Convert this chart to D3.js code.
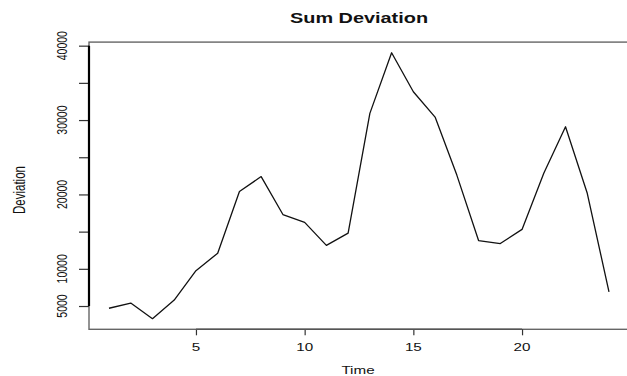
<!DOCTYPE html>
<html lang="en">
<head>
    <meta charset="UTF-8">
    <title>Sum Deviation</title>
    <script src="https://cdn.jsdelivr.net/npm/d3@7"></script>
    <style>
        body { margin: 0; background: #fff; }
        text { font-family: "Liberation Sans", Arial, sans-serif; fill: #111; }
    </style>
</head>
<body>
<svg id="chart" width="627" height="376"></svg>
<script>
    // data
    const time = [1, 2, 3, 4, 5, 6, 7, 8, 9, 10, 11, 12, 13, 14, 15, 16, 17, 18, 19, 20, 21, 22, 23, 24];
    const deviation = [4700, 5400, 3300, 5800, 9750, 12100, 20400, 22400, 17300, 16250, 13150, 14800,
        30900, 39050, 33800, 30400, 22600, 13800, 13400, 15300, 22850, 29100, 20150, 6900];
    const xTicks = [5, 10, 15, 20];
    const yTicks = [5000, 10000, 15000, 20000, 25000, 30000, 35000, 40000];
    const yTickLabels = ["5000", "10000", "", "20000", "", "30000", "", "40000"];

    // the picture is stretched sideways, so text gets a horizontal stretch too
    const stretch = 1.45;

    const svg = d3.select("#chart");

    // R style limits: 4% padding each side
    let xPad = (d3.max(time) - d3.min(time)) * 0.04
    let yPad = (d3.max(deviation) - d3.min(deviation)) * 0.04
    let x = d3.scaleLinear()
        .domain([d3.min(time) - xPad, d3.max(time) + xPad])
        .range([89, 629])
    let y = d3.scaleLinear()
        .domain([d3.min(deviation) - yPad, d3.max(deviation) + yPad])
        .range([329.3, 42.1])

    // plot box (its right side falls off the picture)
    svg.append("rect")
        .attr("x", x.range()[0])
        .attr("y", y.range()[1])
        .attr("width", x.range()[1] - x.range()[0] + 4)
        .attr("height", y.range()[0] - y.range()[1])
        .attr("fill", "none")
        .attr("stroke", "#666")
        .attr("stroke-width", 1.4)

    // y axis
    let yAxis = svg.append("g")
        .attr("transform", "translate(" + x.range()[0] + ",0)")
        .call(d3.axisLeft(y).tickValues(yTicks).tickSize(10).tickSizeOuter(0).tickFormat(""))
    yAxis.select(".domain").remove()
    yAxis.selectAll(".tick line").attr("stroke", "#333").attr("stroke-width", 1.2)
    yAxis.append("line")
        .attr("x1", 0).attr("x2", 0)
        .attr("y1", y(yTicks[0])).attr("y2", y(yTicks[yTicks.length - 1]))
        .attr("stroke", "#000")
        .attr("stroke-width", 2.2)

    yTicks.forEach((v, i) => {
        if (yTickLabels[i] === "") return
        svg.append("text")
            .attr("transform", "translate(67," + y(v) + ") scale(" + stretch + ",1) rotate(-90)")
            .attr("text-anchor", "middle")
            .attr("font-size", "10.5px")
            .text(yTickLabels[i])
    })

    // x axis
    let xAxis = svg.append("g")
        .attr("transform", "translate(0," + y.range()[0] + ")")
        .call(d3.axisBottom(x).tickValues(xTicks).tickSize(6).tickSizeOuter(0).tickFormat(""))
    xAxis.select(".domain").remove()
    xAxis.selectAll(".tick line").attr("stroke", "#333").attr("stroke-width", 1.2)
    xAxis.append("line")
        .attr("x1", x(xTicks[0])).attr("x2", x(xTicks[xTicks.length - 1]))
        .attr("y1", 0).attr("y2", 0)
        .attr("stroke", "#555")
        .attr("stroke-width", 1.4)

    xTicks.forEach(v => {
        svg.append("text")
            .attr("transform", "translate(" + x(v) + ",351) scale(" + stretch + ",1)")
            .attr("text-anchor", "middle")
            .attr("font-size", "10.5px")
            .text(v)
    })

    // the series
    let line = d3.line()
        .x((d, i) => x(time[i]))
        .y(d => y(d))
    svg.append("path")
        .datum(deviation)
        .attr("d", line)
        .attr("fill", "none")
        .attr("stroke", "#111")
        .attr("stroke-width", 1.3)
        .attr("stroke-linejoin", "round")

    // titles
    svg.append("text")
        .attr("transform", "translate(359,23) scale(1.42,1)")
        .attr("text-anchor", "middle")
        .attr("font-size", "14px")
        .attr("font-weight", "bold")
        .text("Sum Deviation")

    svg.append("text")
        .attr("transform", "translate(358,374) scale(" + stretch + ",1)")
        .attr("text-anchor", "middle")
        .attr("font-size", "10.5px")
        .text("Time")

    svg.append("text")
        .attr("transform", "translate(25,190) scale(" + stretch + ",1) rotate(-90)")
        .attr("text-anchor", "middle")
        .attr("font-size", "11.5px")
        .text("Deviation")
</script>
</body>
</html>
